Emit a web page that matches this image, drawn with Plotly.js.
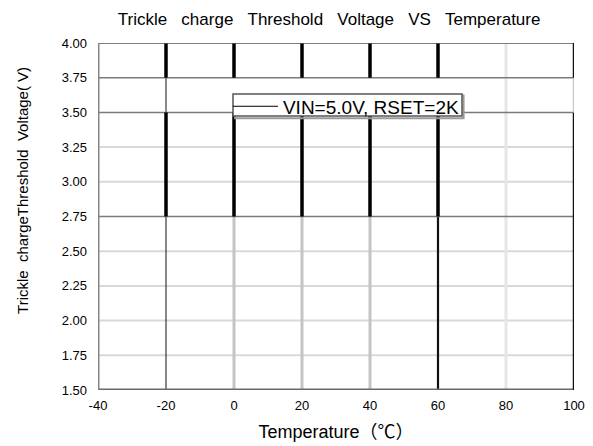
<!DOCTYPE html>
<html>
<head>
<meta charset="utf-8">
<script src="https://cdn.plot.ly/plotly-3.0.1.min.js"></script>
<style>html,body{margin:0;padding:0;background:#fff;}#chart{width:593px;height:446px;}</style>
</head>
<body>
<div id="chart"></div>
<script>
// ---- data ----
const chartTitle = "Trickle   charge   Threshold   Voltage   VS   Temperature";
const xTitle = "Temperature（℃）";
const yTitle = "Trickle  chargeThreshold  Voltage( V)";
const seriesName = "VIN=5.0V, RSET=2K";
const xTicks = [-40, -20, 0, 20, 40, 60, 80, 100];
const yTicks = [1.50, 1.75, 2.00, 2.25, 2.50, 2.75, 3.00, 3.25, 3.50, 3.75, 4.00];
const seriesX = [null];   // no curve is visible in the reference; legend entry only
const seriesY = [null];

// ---- grid decoration (derived from tick arrays) ----
const nb = s => s.replace(/ /g, '\u00a0');
const shapes = [];
const yMin = yTicks[0], yMax = yTicks[yTicks.length - 1];
const xMin = xTicks[0], xMax = xTicks[xTicks.length - 1];
function hl(y, color, width) {
  shapes.push({type: 'line', xref: 'x', yref: 'y', x0: xMin, x1: xMax, y0: y, y1: y,
    line: {color: color, width: width}, layer: 'below'});
}
function vl(x, ya, yb, color, width) {
  shapes.push({type: 'line', xref: 'x', yref: 'y', x0: x, x1: x, y0: ya, y1: yb,
    line: {color: color, width: width}, layer: 'below'});
}
const darkRows = [yTicks[5], yTicks[8], yTicks[9]];
yTicks.slice(1, -1).forEach(y => { if (!darkRows.includes(y)) hl(y, '#d9d9d9', 2); });
const upperBand = [yTicks[9], yTicks[10]];
const midBand = [yTicks[5], yTicks[8]];
const gapBand = [yTicks[8], yTicks[9]];
const lowBand = [yTicks[0], yTicks[5]];
xTicks.slice(1, 6).forEach((x, i) => {
  if (i === 0) vl(x, lowBand[0], lowBand[1], '#111', 1);
  else if (i === 4) vl(x, lowBand[0], lowBand[1], '#111', 2.2);
  else vl(x, lowBand[0], lowBand[1], '#c4c4c4', 3);
  if (i === 0) vl(x, gapBand[0], gapBand[1], '#111', 1);
});
vl(xTicks[6], yMin, yMax, '#e6e6e6', 3);
darkRows.forEach(y => hl(y, '#7a7a7a', 1.5));
xTicks.slice(1, 6).forEach(x => {
  vl(x, upperBand[0], upperBand[1], '#000', 3.5);
  vl(x, midBand[0], midBand[1], '#000', 3.5);
});
hl(yMax, '#555', 1.5);
hl(yMin, '#6a6a6a', 3);
vl(xMin, yMin, yMax, '#8a8580', 3);
vl(xMax, yMin, midBand[1], '#111', 2.5);
vl(xMax, gapBand[0], gapBand[1], '#c8c8c8', 2.5);
vl(xMax, upperBand[0], upperBand[1], '#111', 2.5);

// legend frame (tight box with a soft shadow, as in the reference)
shapes.push({type: 'rect', xref: 'paper', yref: 'paper', x0: 0.288, x1: 0.768, y0: 0.783, y1: 0.849,
  line: {color: '#9a9a9a', width: 2}, fillcolor: 'rgba(0,0,0,0)', layer: 'above'});
shapes.push({type: 'rect', xref: 'paper', yref: 'paper', x0: 0.2836, x1: 0.7647, y0: 0.7896, y1: 0.853,
  line: {color: '#555', width: 1.5}, fillcolor: '#fff', layer: 'above'});

const font = 'Liberation Sans, Arial, Noto Sans CJK SC, sans-serif';

const traces = [{
  type: 'scatter', mode: 'lines', name: seriesName,
  x: seriesX, y: seriesY,
  line: {color: '#000', width: 1}, showlegend: true
}];

const layout = {
  width: 593, height: 446,
  margin: {l: 98, r: 19, t: 43, b: 56, pad: 0},
  paper_bgcolor: '#fff', plot_bgcolor: '#fff',
  font: {family: font, color: '#000', size: 13},
  title: {text: nb(chartTitle), font: {family: font, size: 17, color: '#000'},
    xref: 'container', x: 0.555, xanchor: 'center', yref: 'container', y: 0.957, yanchor: 'middle'},
  xaxis: {range: [xMin, xMax], tickvals: xTicks, ticktext: xTicks.map(String),
    showgrid: false, zeroline: false, showline: false, ticks: '', ticklabelstandoff: 6,
    tickfont: {family: font, size: 13, color: '#000'}, fixedrange: true,
    title: {text: xTitle, font: {family: font, size: 18, color: '#000'}, standoff: 13}},
  yaxis: {range: [yMin, yMax], tickvals: yTicks, ticktext: yTicks.map(v => v.toFixed(2)),
    showgrid: false, zeroline: false, showline: false, ticks: '', ticklabelstandoff: 10,
    tickfont: {family: font, size: 13, color: '#000'}, fixedrange: true},
  annotations: [{
    text: nb(yTitle), textangle: -90, showarrow: false,
    xref: 'paper', yref: 'paper', x: -0.16, y: 0.576, xanchor: 'center', yanchor: 'middle',
    font: {family: font, size: 15, color: '#000'}
  }],
  showlegend: true,
  legend: {x: 0.273, xanchor: 'left', y: 0.872, yanchor: 'top',
    bgcolor: 'rgba(0,0,0,0)', borderwidth: 0,
    font: {family: font, size: 19, color: '#000'}, itemwidth: 45,
    tracegroupgap: 0, itemclick: false, itemdoubleclick: false},
  shapes: shapes
};

Plotly.newPlot('chart', traces, layout, {displayModeBar: false, staticPlot: true});
</script>
</body>
</html>
